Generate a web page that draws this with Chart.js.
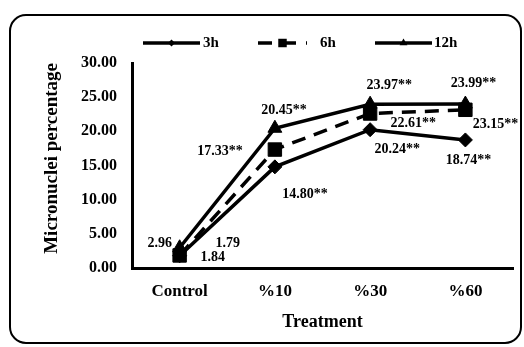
<!DOCTYPE html>
<html>
<head>
<meta charset="utf-8">
<script src="https://cdn.jsdelivr.net/npm/chart.js@4.4.0/dist/chart.umd.min.js"></script>
<style>
  html, body { margin: 0; padding: 0; background: #fff; }
  #wrap { width: 524px; height: 347px; position: relative; }
</style>
</head>
<body>
<div id="wrap"><canvas id="c" width="524" height="347"></canvas></div>
<script>
const categories = ['Control', '%10', '%30', '%60'];
const seriesNames = ['3h', '6h', '12h'];
const values3h = [1.79, 14.80, 20.24, 18.74];
const values6h = [1.84, 17.33, 22.61, 23.15];
const values12h = [2.96, 20.45, 23.97, 23.99];
const labels3h = ['1.79', '14.80**', '20.24**', '18.74**'];
const labels6h = ['1.84', '17.33**', '22.61**', '23.15**'];
const labels12h = ['2.96', '20.45**', '23.97**', '23.99**'];
const yTicks = [0, 5, 10, 15, 20, 25, 30];

// label offsets (dx, dy) from the point, in pixels
const labelOffsets = [
  [[48, -12], [30, 28], [27, 20], [3, 20]],
  [[33, 2], [-55, 2], [43, 10], [30, 15]],
  [[-20, -4], [9, -18], [19, -19], [8, -21]]
];
const pointLabels = [labels3h, labels6h, labels12h];

const FONT = "'Liberation Serif', 'Times New Roman', serif";

const framePlugin = {
  id: 'frame',
  beforeDraw(chart) {
    const ctx = chart.ctx;
    ctx.save();
    ctx.fillStyle = '#fff';
    ctx.fillRect(0, 0, chart.width, chart.height);
    ctx.beginPath();
    ctx.roundRect(10, 15, 511, 328, 16);
    ctx.lineWidth = 2;
    ctx.strokeStyle = '#000';
    ctx.stroke();
    ctx.restore();
  }
};

const labelPlugin = {
  id: 'ptLabels',
  afterDatasetsDraw(chart) {
    const ctx = chart.ctx;
    ctx.save();
    ctx.font = 'bold 14px ' + FONT;
    ctx.fillStyle = '#000';
    ctx.textAlign = 'center';
    ctx.textBaseline = 'middle';
    chart.data.datasets.forEach((ds, di) => {
      const meta = chart.getDatasetMeta(di);
      meta.data.forEach((pt, i) => {
        const off = labelOffsets[di][i];
        ctx.fillText(pointLabels[di][i], pt.x + off[0], pt.y + off[1]);
      });
    });
    ctx.restore();
  }
};

const legendPlugin = {
  id: 'customLegend',
  afterDraw(chart) {
    const ctx = chart.ctx;
    const y = 43;
    const items = [
      { x0: 143, x1: 200, tx: 203, dash: [], style: 'rectRot', r: 3.5 },
      { x0: 258, x1: 307, tx: 320, dash: [14, 10], style: 'rect', r: 6 },
      { x0: 375, x1: 432, tx: 434, dash: [], style: 'triangle', r: 4.5 }
    ];
    ctx.save();
    items.forEach((it, i) => {
      ctx.beginPath();
      ctx.setLineDash(it.dash);
      ctx.lineWidth = 3.5;
      ctx.strokeStyle = '#000';
      ctx.moveTo(it.x0, y);
      ctx.lineTo(it.x1, y);
      ctx.stroke();
      ctx.setLineDash([]);
      ctx.fillStyle = '#000';
      Chart.helpers.drawPoint(ctx, { pointStyle: it.style, radius: it.r, borderWidth: 0, rotation: 0 }, (it.x0 + it.x1) / 2, y);
      ctx.font = 'bold 15px ' + FONT;
      ctx.textAlign = 'left';
      ctx.textBaseline = 'middle';
      ctx.fillText(seriesNames[i], it.tx, y);
    });
    ctx.restore();
  }
};

new Chart(document.getElementById('c'), {
  type: 'line',
  data: {
    labels: categories,
    datasets: [
      { label: seriesNames[0], data: values3h, borderColor: '#000', backgroundColor: '#000',
        borderWidth: 3.5, pointStyle: 'rectRot', pointRadius: 7, pointBorderWidth: 1, tension: 0 },
      { label: seriesNames[1], data: values6h, borderColor: '#000', backgroundColor: '#000',
        borderWidth: 3.5, borderDash: [14, 9], pointStyle: 'rect', pointRadius: 9.5, pointBorderWidth: 1, tension: 0 },
      { label: seriesNames[2], data: values12h, borderColor: '#000', backgroundColor: '#000',
        borderWidth: 3.5, pointStyle: 'triangle', pointRadius: 8, pointBorderWidth: 1, tension: 0 }
    ]
  },
  options: {
    responsive: false,
    animation: false,
    devicePixelRatio: 1,
    layout: { padding: { top: 63, right: 11, left: 0, bottom: 0 } },
    plugins: { legend: { display: false }, tooltip: { enabled: false } },
    scales: {
      x: {
        offset: true,
        grid: { display: false, drawTicks: false },
        border: { display: true, color: '#000', width: 3 },
        ticks: { color: '#000', font: { family: FONT, size: 17, weight: 'bold' }, padding: 13 },
        title: { display: true, text: 'Treatment', color: '#000',
                 font: { family: FONT, size: 18, weight: 'bold' }, padding: { top: 0, bottom: 14 } },
        afterFit(scale) { scale.height = 79; }
      },
      y: {
        min: 0, max: 30,
        grid: { display: false, drawTicks: false },
        border: { display: true, color: '#000', width: 3 },
        afterBuildTicks(scale) { scale.ticks = yTicks.map(v => ({ value: v })); },
        ticks: { color: '#000', font: { family: FONT, size: 16, weight: 'bold' }, padding: 15,
                 callback: v => Number(v).toFixed(2) },
        title: { display: true, text: 'Micronuclei percentage', color: '#000', align: 'end',
                 font: { family: FONT, size: 19, weight: 'bold' }, padding: { top: 41, bottom: 0 } },
        afterFit(scale) { scale.width = 132; }
      }
    }
  },
  plugins: [framePlugin, labelPlugin, legendPlugin]
});
</script>
</body>
</html>
